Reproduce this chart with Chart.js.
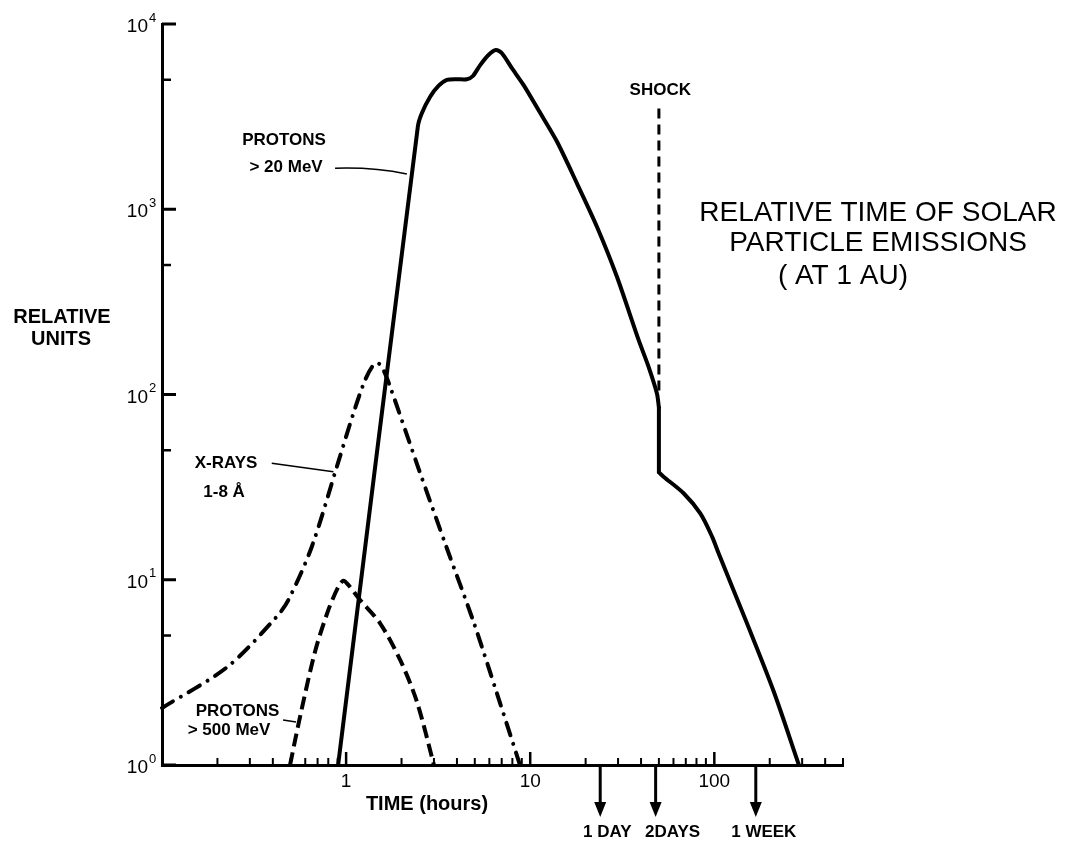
<!DOCTYPE html>
<html><head><meta charset="utf-8">
<script src="https://cdn.jsdelivr.net/npm/chart.js@4.4.1/dist/chart.umd.min.js"></script>
<style>html,body{margin:0;padding:0;background:#fff;}#wrap{width:1088px;height:846px;position:relative;}</style>
</head><body><div id="wrap"><canvas id="c" width="1088" height="846"></canvas></div>
<script>
// ---- data (time in hours, relative units) ----
const protons20Time  = [0.905, 2.453, 2.578, 2.861, 3.175, 3.526, 3.997, 4.529, 4.882, 5.349, 5.934, 6.509, 7.02, 7.953, 9.195, 11.09, 13.97, 17.94, 23.04, 29.59, 38.79, 43.96, 48.83, 50, 50, 53.0, 68.1, 83.9, 97.2, 105.5, 150.6, 210, 288];
const protons20Value = [1, 2800, 3300, 4050, 4630, 4990, 5030, 5030, 5240, 6000, 6800, 7240, 6950, 5770, 4690, 3430, 2320, 1380, 805, 432, 197, 141, 101, 85, 38, 36, 29.3, 22.8, 17.1, 13.9, 5.8, 2.5, 1];
const xrayTime  = [0.1, 0.227, 0.4165, 0.4858, 0.651, 0.908, 1.096, 1.268, 1.407, 1.498, 1.595, 1.734, 2.472, 3.526, 4.918, 6.592, 8.8];
const xrayValue = [2.03, 3.39, 6.26, 7.78, 15.08, 43.4, 79.2, 119.7, 144.3, 147.4, 135.6, 110.2, 39.96, 14.79, 5.94, 2.44, 1];
const protons500Time  = [0.496, 0.562, 0.678, 0.801, 0.908, 0.967, 1.029, 1.191, 1.53, 1.966, 2.423, 3.0];
const protons500Value = [1, 1.82, 4.09, 6.87, 9.17, 9.88, 9.37, 7.78, 5.82, 3.69, 2.2, 1];
const shockTime  = [50, 50];
const shockValue = [3500, 101];
const markerTimes  = [24, 48, 168];
const markerLabels = ['1 DAY', '2DAYS', '1 WEEK'];
const yMajorTicks = [1, 10, 100, 1000, 10000];
const yTickExponents = ['0', '1', '2', '3', '4'];
const yMinorTicks = [5, 50, 500, 5000];
const xMajorTicks = [1, 10, 100];
const xTickLabels = ['1', '10', '100'];
const xMinorTicks = [0.2,0.3,0.4,0.5,0.6,0.7,0.8,0.9, 2,3,4,5,6,7,8,9, 20,30,40,50,60,70,80,90, 200,300,400,500];

const pts = (xs, ys) => xs.map((x, i) => ({x, y: ys[i]}));
const LBL = '"Liberation Sans", Arial, sans-serif';

// split the >20 MeV curve at the shock so the vertical drop stays sharp
const p20 = pts(protons20Time, protons20Value);
const iTop = protons20Time.indexOf(shockTime[0]);
const iBot = protons20Time.lastIndexOf(shockTime[0]);

const deco = {
  id: 'deco',
  afterDraw(chart) {
    const ctx = chart.ctx, xs = chart.scales.x, ys = chart.scales.y, a = chart.chartArea;
    const X = v => xs.getPixelForValue(v), Y = v => ys.getPixelForValue(v);
    const seg = (x1, y1, x2, y2) => { ctx.beginPath(); ctx.moveTo(x1, y1); ctx.lineTo(x2, y2); ctx.stroke(); };
    const text = (s, x, y, font, align) => { ctx.font = font; ctx.textAlign = align || 'center'; ctx.textBaseline = 'middle'; ctx.fillText(s, x, y); };
    ctx.save();
    ctx.strokeStyle = '#000'; ctx.fillStyle = '#000'; ctx.lineCap = 'butt';
    // y ticks (inward)
    ctx.lineWidth = 3;
    yMajorTicks.forEach(v => seg(a.left, Y(v), a.left + 14, Y(v)));
    ctx.lineWidth = 2.5;
    yMinorTicks.forEach(v => seg(a.left, Y(v), a.left + 9, Y(v)));
    // x ticks (inward)
    ctx.lineWidth = 2.5;
    xMajorTicks.forEach(v => seg(X(v), a.bottom, X(v), a.bottom - 13));
    ctx.lineWidth = 2;
    xMinorTicks.forEach(v => seg(X(v), a.bottom, X(v), a.bottom - 7));
    // y tick labels 10^n
    yMajorTicks.forEach((v, i) => {
      const y = Y(v) + 3;
      text('10', a.left - 14, y, '19px ' + LBL, 'right');
      text(yTickExponents[i], a.left - 13, y - 9, '13px ' + LBL, 'left');
    });
    // x tick labels
    xMajorTicks.forEach((v, i) => text(xTickLabels[i], X(v), a.bottom + 17, '19px ' + LBL));
    // axis titles
    text('TIME (hours)', 427, a.bottom + 39, 'bold 20px ' + LBL);
    text('RELATIVE', 62, 317, 'bold 20px ' + LBL);
    text('UNITS', 61, 339, 'bold 20px ' + LBL);
    // day / week markers
    const dx = [7, 17, 8];
    markerTimes.forEach((t, i) => {
      const x = X(t);
      ctx.lineWidth = 3;
      seg(x, a.bottom, x, a.bottom + 40);
      ctx.beginPath(); ctx.moveTo(x - 6, a.bottom + 37); ctx.lineTo(x + 6, a.bottom + 37); ctx.lineTo(x, a.bottom + 52); ctx.closePath(); ctx.fill();
      text(markerLabels[i], x + dx[i], a.bottom + 67, 'bold 17px ' + LBL);
    });
    // annotations
    ctx.lineWidth = 1.5;
    text('PROTONS', X(0.46), Y(2365), 'bold 17px ' + LBL);
    text('> 20 MeV', X(0.472), Y(1690), 'bold 17px ' + LBL);
    ctx.beginPath(); ctx.moveTo(X(0.871), Y(1664)); ctx.quadraticCurveTo(X(1.4), Y(1690), X(2.138), Y(1549)); ctx.stroke();
    text('X-RAYS', X(0.2228), Y(42.4), 'bold 17px ' + LBL);
    text('1-8 Å', X(0.2173), Y(29.8), 'bold 17px ' + LBL);
    seg(X(0.3946), Y(42.5), X(0.853), Y(38.3));
    text('PROTONS', X(0.2572), Y(1.945), 'bold 17px ' + LBL);
    text('> 500 MeV', X(0.2312), Y(1.535), 'bold 17px ' + LBL);
    seg(X(0.4546), Y(1.75), X(0.535), Y(1.706));
    text('SHOCK', X(50.9), Y(4400), 'bold 17px ' + LBL);
    // title
    text('RELATIVE TIME OF SOLAR', 878, 213, '28px ' + LBL);
    text('PARTICLE EMISSIONS', 878, 243, '28px ' + LBL);
    text('( AT 1 AU)', 843, 276, '28px ' + LBL);
    ctx.restore();
  }
};

const solid = { borderColor: '#000', borderWidth: 4, borderJoinStyle: 'round', borderCapStyle: 'round' };

new Chart(document.getElementById('c'), {
  type: 'line',
  data: {
    datasets: [
      Object.assign({ label: 'PROTONS > 20 MeV', data: p20.slice(0, iTop + 1), tension: 0.25 }, solid),
      Object.assign({ label: 'PROTONS > 20 MeV (shock drop)', data: p20.slice(iTop, iBot + 1), tension: 0 }, solid),
      Object.assign({ label: 'PROTONS > 20 MeV (after shock)', data: p20.slice(iBot), tension: 0.3 }, solid),
      { label: 'X-RAYS 1-8 Å', data: pts(xrayTime, xrayValue), borderColor: '#000', borderWidth: 4, tension: 0.3, borderDash: [13, 9, 0.01, 9], borderCapStyle: 'round' },
      { label: 'PROTONS > 500 MeV', data: pts(protons500Time, protons500Value), borderColor: '#000', borderWidth: 4, tension: 0.3, borderDash: [13, 6] },
      { label: 'SHOCK', data: pts(shockTime, shockValue), borderColor: '#000', borderWidth: 3, tension: 0, borderDash: [10, 6] }
    ]
  },
  options: {
    responsive: false, animation: false, events: [],
    layout: { padding: { left: 162, right: 245, top: 24, bottom: 81 } },
    elements: { point: { radius: 0 }, line: { fill: false } },
    datasets: { line: { clip: false } },
    plugins: { legend: { display: false }, tooltip: { enabled: false }, title: { display: false } },
    scales: {
      x: { type: 'logarithmic', min: 0.1, max: 500, grid: { display: false, drawTicks: false }, ticks: { display: false }, border: { color: '#000', width: 3 }, afterFit: s => { s.height = 0; } },
      y: { type: 'logarithmic', min: 1, max: 10000, grid: { display: false, drawTicks: false }, ticks: { display: false }, border: { color: '#000', width: 3 }, afterFit: s => { s.width = 0; } }
    }
  },
  plugins: [deco]
});
</script></body></html>
